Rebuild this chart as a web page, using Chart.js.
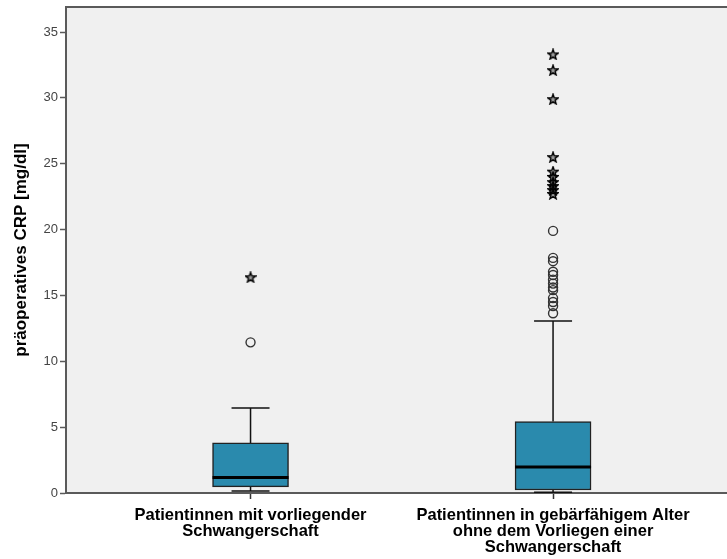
<!DOCTYPE html>
<html>
<head>
<meta charset="utf-8">
<script src="https://cdn.jsdelivr.net/npm/chart.js@4/dist/chart.umd.min.js"></script>
<style>
  html, body { margin: 0; padding: 0; background: #fff; }
  #wrap { width: 727px; height: 559px; }
</style>
</head>
<body>
<div id="wrap"><canvas id="crp"></canvas></div>
<script>
const groups = [
    ['Patientinnen mit vorliegender', 'Schwangerschaft'],
    ['Patientinnen in gebärfähigem Alter', 'ohne dem Vorliegen einer', 'Schwangerschaft']
];

// box statistics per group
const lowerWhisker = [0.15, 0.05];
const q1 = [0.46, 0.23];
const median = [1.17, 1.98];
const q3 = [3.8, 5.43];
const upperWhisker = [6.46, 13.06];

// outliers (circles) and extremes (stars)
const outliers1 = [11.44];
const extremes1 = [16.38];
const outliers2 = [19.9, 17.85, 17.6, 16.8, 16.55, 16.2, 15.9, 15.6, 15.4, 14.8, 14.5, 14.2, 13.65];
const extremes2 = [33.3, 32.1, 29.9, 25.5, 24.4, 24.0, 23.6, 23.3, 23.0, 22.7];

const yTicks = [0, 5, 10, 15, 20, 25, 30, 35];

const boxColor = '#2a8aad';
const axisColor = '#5a5a5a';
const fontFamily = 'Liberation Sans, Arial, sans-serif';

function starImage() {
    const c = document.createElement('canvas');
    c.width = 12; c.height = 12;
    const g = c.getContext('2d');
    g.strokeStyle = '#000';
    g.fillStyle = 'rgba(0,0,0,0.35)';
    g.lineWidth = 1.4;
    g.beginPath();
    for (let i = 0; i < 10; i++) {
        const r = i % 2 === 0 ? 5.3 : 2.2;
        const a = -Math.PI / 2 + i * Math.PI / 5;
        const px = 6 + r * Math.cos(a), py = 6.4 + r * Math.sin(a);
        if (i === 0) g.moveTo(px, py); else g.lineTo(px, py);
    }
    g.closePath();
    g.fill();
    g.stroke();
    return c;
}

const star = starImage();

const points = (pos, vals) => vals.map(v => ({ x: pos, y: v }));

// no extra label padding at the axis ends
function tightFit(size) {
    return s => {
        if (s.isHorizontal()) s.height = size; else s.width = size;
        s.paddingLeft = 0;
        s.paddingRight = 0;
        s.paddingTop = 0;
        s.paddingBottom = 0;
    };
}

// plot background + top frame line
const frame = {
    id: 'frame',
    beforeDraw(chart) {
        const { ctx, chartArea: a } = chart;
        ctx.save();
        ctx.fillStyle = '#f0f0f0';
        ctx.fillRect(a.left, a.top, a.right - a.left, a.bottom - a.top);
        ctx.strokeStyle = axisColor;
        ctx.lineWidth = 2;
        ctx.beginPath();
        ctx.moveTo(a.left, a.top);
        ctx.lineTo(a.right, a.top);
        ctx.stroke();
        ctx.restore();
    }
};

// whiskers, caps and median lines
const whiskers = {
    id: 'whiskers',
    beforeDatasetsDraw(chart) {
        const { ctx, scales: { x, y } } = chart;
        ctx.save();
        ctx.strokeStyle = '#111';
        ctx.lineWidth = 1.5;
        for (let i = 0; i < groups.length; i++) {
            const cx = x.getPixelForValue(i + 1);
            const cap = 19;
            ctx.beginPath();
            ctx.moveTo(cx, y.getPixelForValue(q3[i]));
            ctx.lineTo(cx, y.getPixelForValue(upperWhisker[i]));
            ctx.moveTo(cx, y.getPixelForValue(q1[i]));
            ctx.lineTo(cx, y.getPixelForValue(lowerWhisker[i]));
            ctx.moveTo(cx - cap, y.getPixelForValue(upperWhisker[i]));
            ctx.lineTo(cx + cap, y.getPixelForValue(upperWhisker[i]));
            ctx.moveTo(cx - cap, y.getPixelForValue(lowerWhisker[i]));
            ctx.lineTo(cx + cap, y.getPixelForValue(lowerWhisker[i]));
            ctx.stroke();
        }
        ctx.restore();
    },
    afterDatasetDraw(chart, args) {
        if (args.index !== 0) return;
        const { ctx, scales: { x, y } } = chart;
        ctx.save();
        ctx.strokeStyle = '#000';
        ctx.lineWidth = 3;
        for (let i = 0; i < groups.length; i++) {
            const cx = x.getPixelForValue(i + 1);
            const my = y.getPixelForValue(median[i]);
            ctx.beginPath();
            ctx.moveTo(cx - 38, my);
            ctx.lineTo(cx + 38, my);
            ctx.stroke();
        }
        ctx.restore();
    }
};

new Chart(document.getElementById('crp'), {
    type: 'bar',
    data: {
        datasets: [
            {
                label: 'box',
                data: groups.map((g, i) => ({ x: i + 1, y: [q1[i], q3[i]] })),
                backgroundColor: boxColor,
                borderColor: '#222',
                borderWidth: 1.5,
                borderSkipped: false,
                barThickness: 76
            },
            {
                type: 'line',
                label: 'outliers',
                data: points(1, outliers1).concat(points(2, outliers2)),
                showLine: false,
                pointStyle: 'circle',
                pointRadius: 4.5,
                pointBorderWidth: 1.4,
                pointBorderColor: '#333',
                pointBackgroundColor: 'rgba(0,0,0,0)'
            },
            {
                type: 'line',
                label: 'extremes',
                data: points(1, extremes1).concat(points(2, extremes2)),
                showLine: false,
                pointStyle: star,
                pointRadius: 6
            }
        ]
    },
    options: {
        responsive: true,
        maintainAspectRatio: false,
        animation: false,
        layout: { autoPadding: false, padding: { top: 7, right: 0, left: 0, bottom: 0 } },
        plugins: {
            legend: { display: false },
            tooltip: { enabled: false }
        },
        scales: {
            x: {
                type: 'linear',
                offset: false,
                min: 0.39,
                max: 2.575,
                afterFit: tightFit(66),
                afterBuildTicks: s => { s.ticks = groups.map((g, i) => ({ value: i + 1 })); },
                border: { color: axisColor, width: 2 },
                grid: { offset: false, drawOnChartArea: false, tickLength: 6, tickColor: '#333', tickWidth: 1.5 },
                ticks: {
                    autoSkip: false,
                    maxRotation: 0,
                    padding: 9,
                    color: '#000',
                    font: { family: fontFamily, size: 16.5, weight: 'bold', lineHeight: 0.95 },
                    callback: v => groups[v - 1]
                }
            },
            y: {
                min: 0,
                max: 36.9,
                afterFit: tightFit(66),
                afterBuildTicks: s => { s.ticks = yTicks.map(v => ({ value: v })); },
                border: { color: axisColor, width: 2 },
                grid: { drawOnChartArea: false, tickLength: 6, tickColor: axisColor, tickWidth: 1.5 },
                ticks: {
                    padding: 2,
                    color: '#444',
                    font: { family: fontFamily, size: 13 }
                },
                title: {
                    display: true,
                    text: 'präoperatives CRP [mg/dl]',
                    color: '#000',
                    padding: { top: 11, bottom: 0 },
                    font: { family: fontFamily, size: 17, weight: 'bold' }
                }
            }
        }
    },
    plugins: [frame, whiskers]
});
</script>
</body>
</html>
